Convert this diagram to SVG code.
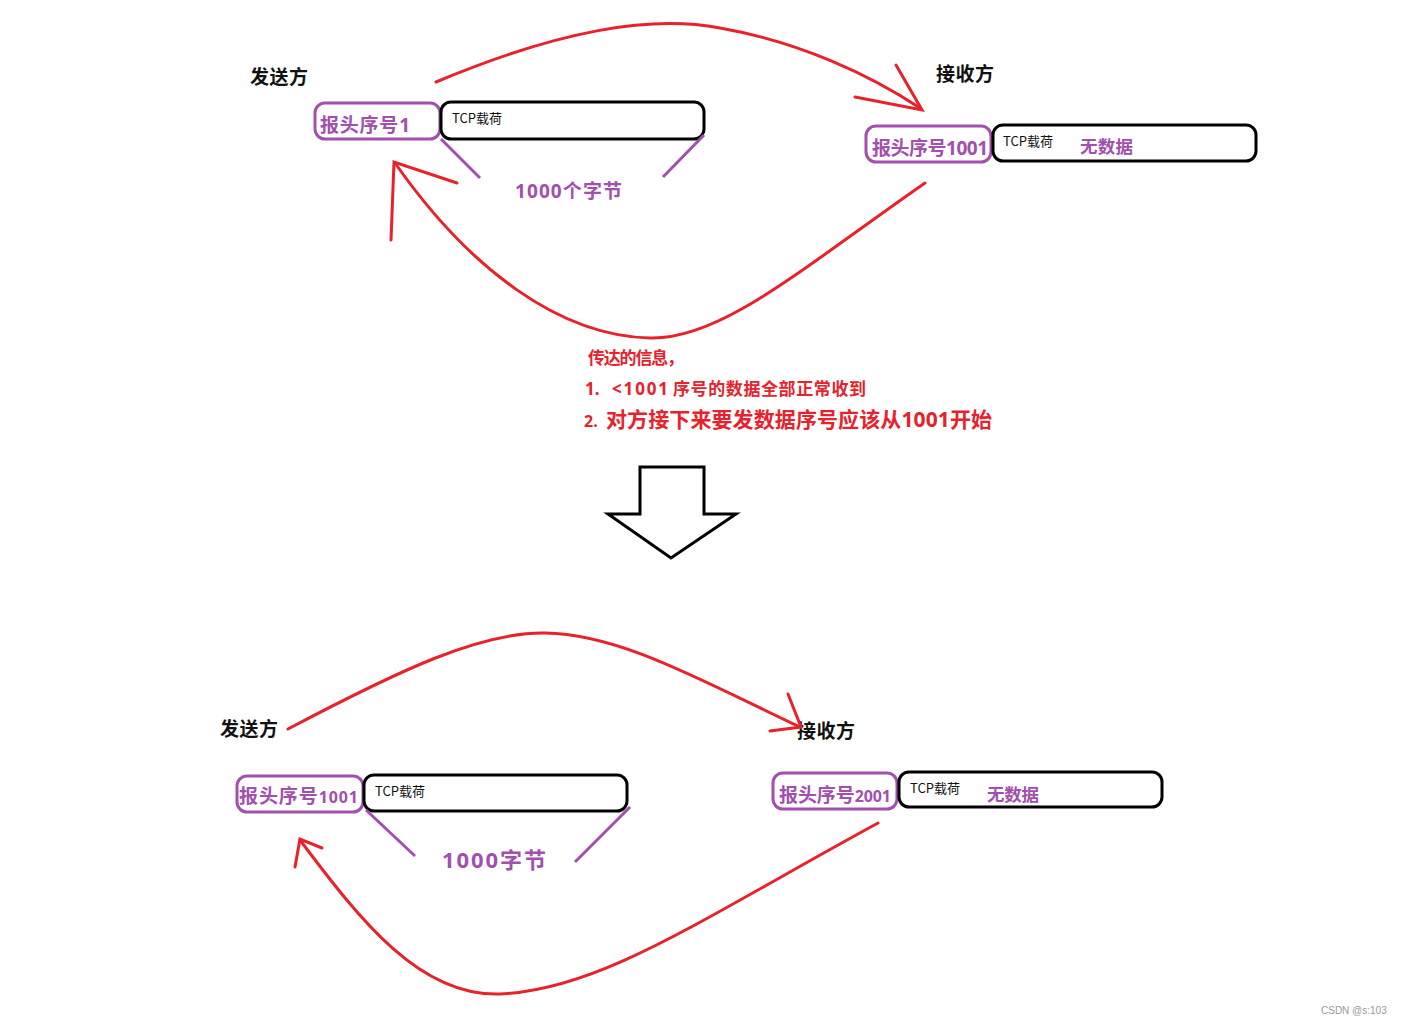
<svg xmlns="http://www.w3.org/2000/svg" width="1406" height="1024" viewBox="0 0 1406 1024">
<style>
.lbl{font-family:"Microsoft YaHei","Noto Sans CJK SC",sans-serif;font-weight:bold;fill:#111}
.hdr{fill:#fff;stroke:#a24fae;stroke-width:3}
.pay{fill:#fff;stroke:#000;stroke-width:3}
.pt{font-family:"Noto Sans","Noto Sans CJK SC",sans-serif;font-weight:bold;fill:#a24fae}
.tcp{font-family:"Noto Sans CJK SC",sans-serif;font-size:13px;fill:#111}
.red{fill:none;stroke:#e8212b;stroke-width:3;stroke-linecap:round}
.pl{stroke:#a24fae;stroke-width:3;fill:none}
.rt{font-family:"Noto Sans","Noto Sans CJK SC",sans-serif;font-weight:bold;fill:#e8212b}
</style>
<rect width="1406" height="1024" fill="#fff"/>
<g id="top-sender">
<text class="lbl" x="250" y="84" font-size="19" textLength="58">发送方</text>
<rect class="hdr" x="315" y="103" width="125" height="36" rx="10"/>
<text class="pt" x="320" y="132" font-size="19" textLength="90">报头序号1</text>
<rect class="pay" x="441" y="102" width="263" height="37" rx="10"/>
<text class="tcp" x="452" y="123">TCP载荷</text>
<line class="pl" x1="441" y1="139" x2="480" y2="178"/>
<line class="pl" x1="704" y1="135" x2="663" y2="177"/>
<text class="pt" x="515" y="198" font-size="19" textLength="107">1000个字节</text>
</g>
<g id="top-receiver">
<text class="lbl" x="936" y="81" font-size="19" textLength="58">接收方</text>
<rect class="hdr" x="866" y="126" width="125" height="36" rx="10"/>
<text class="pt" x="872" y="155" font-size="19" textLength="116">报头序号1001</text>
<rect class="pay" x="993" y="125" width="263" height="36" rx="10"/>
<text class="tcp" x="1003" y="146">TCP载荷</text>
<text class="pt" x="1080" y="153" font-size="17.5" textLength="53">无数据</text>
</g>
<g id="info">
<text class="rt" x="588" y="364" font-size="17" textLength="96">传达的信息，</text>
<text class="rt" y="395" font-size="17"><tspan x="585">1.</tspan><tspan x="612" textLength="56">&lt;1001</tspan><tspan x="673" textLength="193">序号的数据全部正常收到</tspan></text>
<text class="rt" y="427" font-size="21"><tspan x="584" font-size="16">2.</tspan><tspan x="606" textLength="386">对方接下来要发数据序号应该从1001开始</tspan></text>
</g>
<g id="big-arrow">
<polygon points="640,467 704,467 704,514 736,514 671,558 608,514 640,514" fill="#fff" stroke="#000" stroke-width="3" stroke-linejoin="miter"/>
</g>
<g id="bottom-sender">
<text class="lbl" x="220" y="736" font-size="19" textLength="58">发送方</text>
<rect class="hdr" x="237" y="776" width="126" height="36" rx="10"/>
<text class="pt" x="239" y="803" font-size="19" textLength="119">报头序号<tspan font-size="16">1001</tspan></text>
<rect class="pay" x="364" y="775" width="263" height="36" rx="10"/>
<text class="tcp" x="375" y="796">TCP载荷</text>
<line class="pl" x1="366" y1="810" x2="415" y2="856"/>
<line class="pl" x1="630" y1="807" x2="575" y2="862"/>
<text class="pt" x="442" y="868" font-size="22" textLength="104">1000字节</text>
</g>
<g id="bottom-receiver">
<text class="lbl" x="797" y="738" font-size="19" textLength="58">接收方</text>
<rect class="hdr" x="773" y="773" width="124" height="36" rx="10"/>
<text class="pt" x="779" y="802" font-size="19" textLength="112">报头序号<tspan font-size="16">2001</tspan></text>
<rect class="pay" x="899" y="772" width="263" height="35" rx="10"/>
<text class="tcp" x="910" y="793">TCP载荷</text>
<text class="pt" x="987" y="801" font-size="17.5" textLength="52">无数据</text>
</g>
<g id="connectors">
<path class="red" d="M436,82 C560,30 650,15 720,28 C800,42 870,75 920,108"/>
<path class="red" d="M896,65 L922,110 L855,97"/>
<path class="red" d="M925,183 C800,270 720,340 650,338 C560,336 470,270 395,163"/>
<path class="red" d="M391,240 L394,162 L457,183"/>
<path class="red" d="M288,729 C400,670 480,632 545,633 C620,634 700,680 800,727"/>
<path class="red" d="M788,694 L801,727 L770,731"/>
<path class="red" d="M878,823 C700,920 600,990 500,994 C420,997 360,920 300,840"/>
<path class="red" d="M295,867 L300,839 L322,848"/>
</g>
<text x="1321" y="1014" font-family="Liberation Sans,sans-serif" font-size="10" fill="#999">CSDN @s:103</text>
</svg>
